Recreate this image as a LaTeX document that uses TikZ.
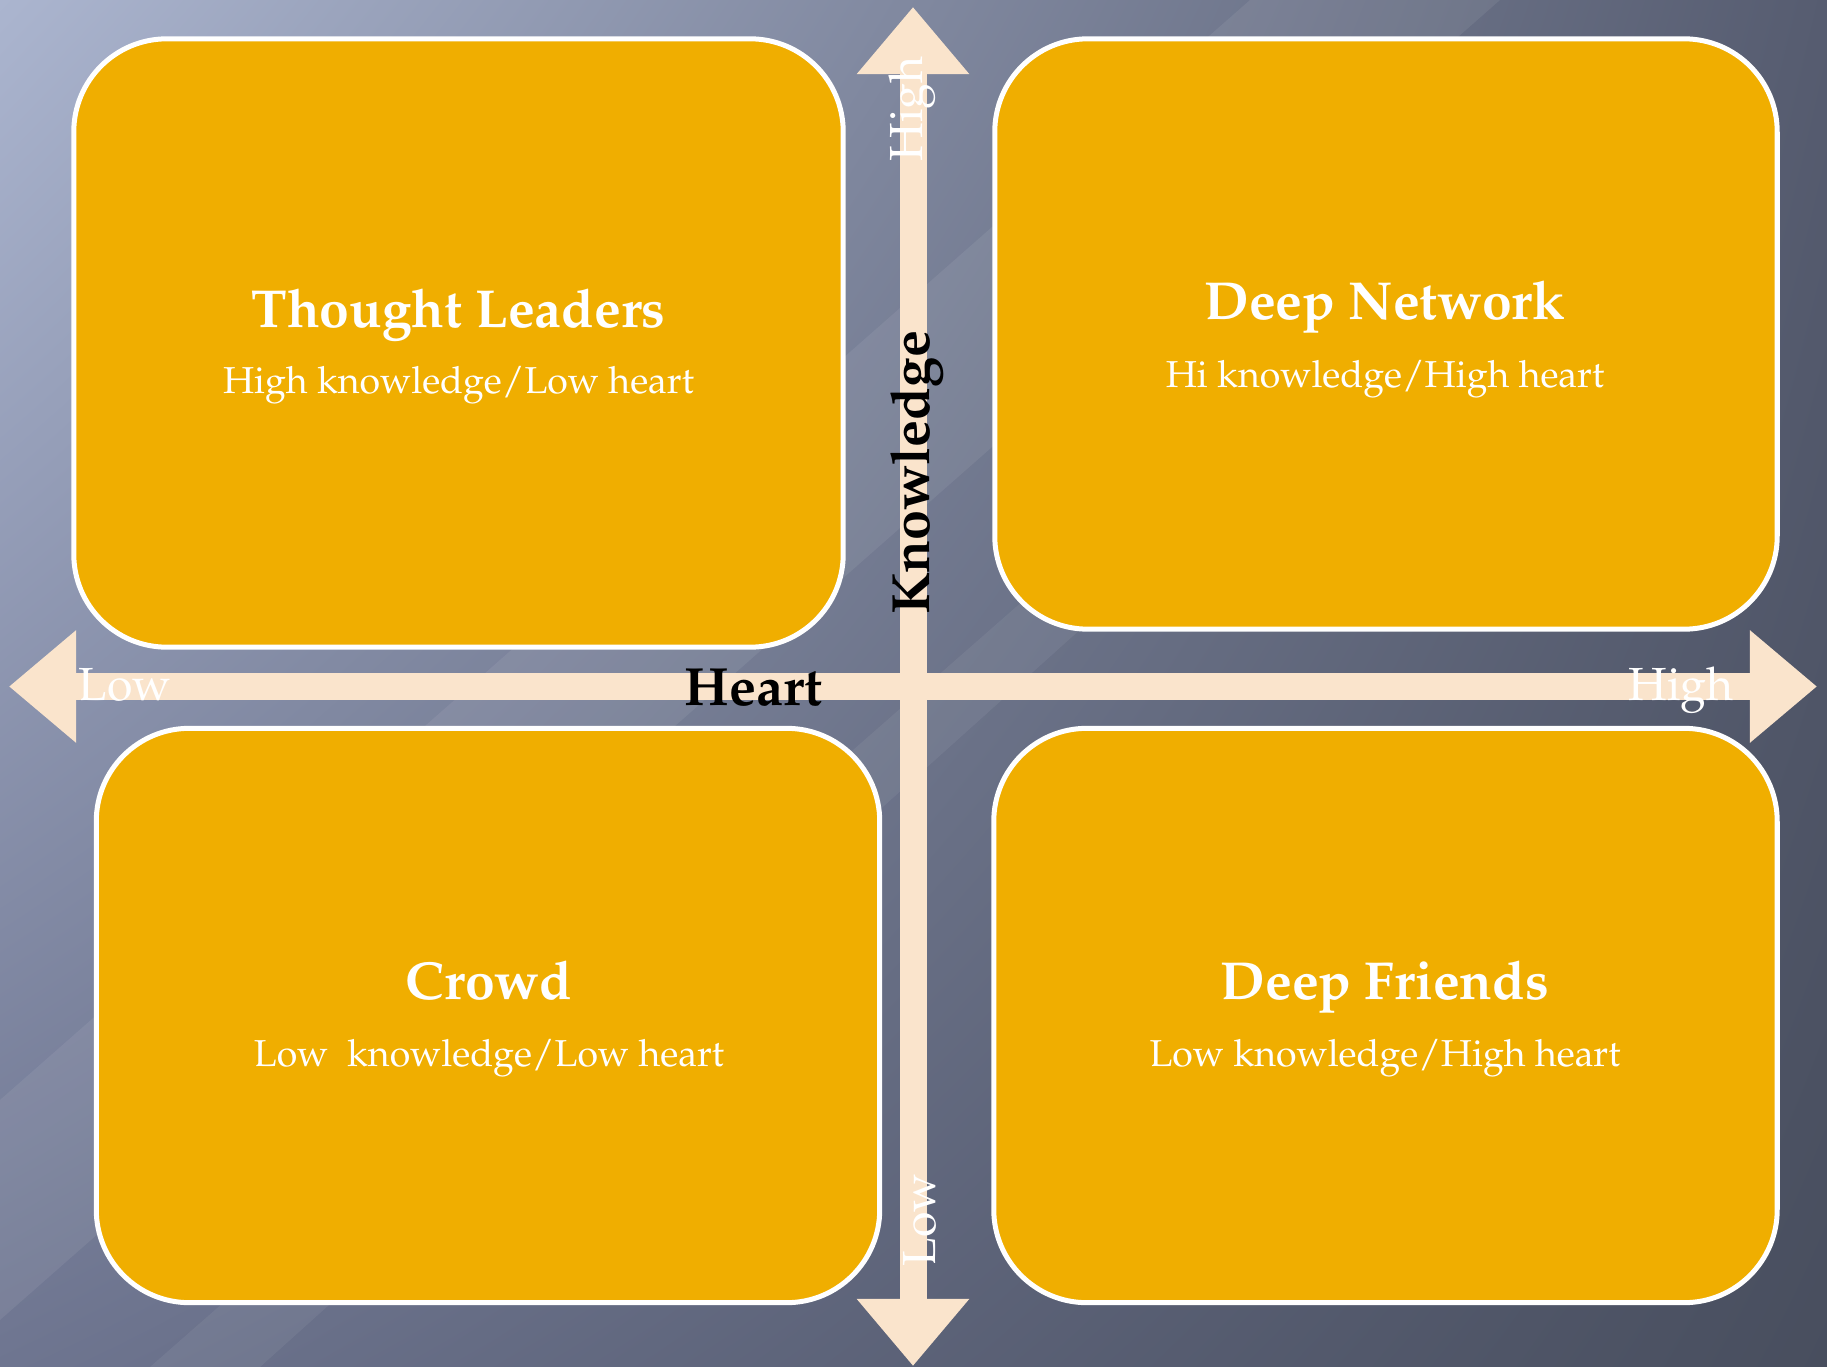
\documentclass[tikz,border=0pt]{standalone}
\usepackage[T1]{fontenc}
\usepackage{mathpazo}
\usetikzlibrary{arrows.meta,shadings}

\definecolor{quadfill}{HTML}{F0AE00}
\definecolor{axiscol}{HTML}{FAE4CC}
\definecolor{bgA}{HTML}{ABB5CF}
\definecolor{bgB}{HTML}{565C70}
\definecolor{bgC}{HTML}{6E7590}
\definecolor{bgD}{HTML}{484E5E}

\tikzset{
  quad/.style={draw=white, line width=0.05cm, fill=quadfill, rounded corners=0.93cm, inner sep=0pt},
  qtitle/.style={text=white, anchor=base, inner sep=0pt, font=\fontsize{15.2}{18}\selectfont\bfseries},
  qsub/.style={text=white, anchor=base, inner sep=0pt, font=\fontsize{10.65}{12}\selectfont},
  axislabel/.style={text=white, inner sep=0pt, font=\fontsize{13.2}{16}\selectfont},
  axisname/.style={text=black, inner sep=0pt, font=\fontsize{15.3}{17}\selectfont\bfseries},
  axisarrow/.style={draw=axiscol, line width=0.27cm, {Triangle[width=1.08cm,length=0.67cm]}-{Triangle[width=1.08cm,length=0.67cm]}}
}

\begin{document}
\begin{tikzpicture}[x=0.01cm, y=-0.01cm]
        % Arka plan
        \useasboundingbox (0,0) rectangle (1827,1367);
        \shade[upper left=bgA, upper right=bgB, lower left=bgC, lower right=bgD] (0,0) rectangle (1827,1367);
        \fill[white, opacity=0.07] (0,1100) -- (1250,0) -- (1500,0) -- (0,1320) -- cycle;
        \fill[white, opacity=0.06] (150,1367) -- (1400,270) -- (1480,270) -- (260,1367) -- cycle;

        % Dort kutu
        \node[quad, minimum width=7.69cm, minimum height=6.08cm] (thought) at (458.5,343) {};
        \node[quad, minimum width=7.82cm, minimum height=5.90cm] (network) at (1386,334) {};
        \node[quad, minimum width=7.83cm, minimum height=5.74cm] (crowd) at (488,1015.5) {};
        \node[quad, minimum width=7.83cm, minimum height=5.74cm] (friends) at (1385.5,1015.5) {};

        % Eksenler
        \coordinate (west) at (9,686.5);
        \coordinate (east) at (1817,686.5);
        \coordinate (north) at (913,7);
        \coordinate (south) at (913,1366);
        \draw[axisarrow] (west) -- (east);
        \draw[axisarrow] (south) -- (north);

        % Eksen etiketleri
        \node[axislabel, anchor=base west] (lowX) at (78,700) {Low};
        \node[axislabel, anchor=base west] (highX) at (1628,700) {High};
        \node[axislabel, anchor=base, rotate=90] (highY) at (922,109) {High};
        \node[axislabel, anchor=base, rotate=90] (lowY) at (935,1220) {Low};
        \node[axisname, anchor=base west] (heart) at (684,705) {Heart};
        \node[axisname, anchor=base, rotate=90] (knowledge) at (929,473) {Knowledge};

        % Kutu yazilari
        \node[qtitle] (thoughtT) at (458.5,328) {Thought Leaders};
        \node[qsub] (thoughtS) at (458.5,394) {High knowledge/Low heart};
        \node[qtitle] (networkT) at (1385,320) {Deep Network};
        \node[qsub] (networkS) at (1385,388) {Hi knowledge/High heart};
        \node[qtitle] (crowdT) at (489,999) {Crowd};
        \node[qsub] (crowdS) at (489,1066) {Low~~knowledge/Low heart};
        \node[qtitle] (friendsT) at (1385,999) {Deep Friends};
        \node[qsub] (friendsS) at (1385,1066) {Low knowledge/High heart};

    \end{tikzpicture}
\end{document}
